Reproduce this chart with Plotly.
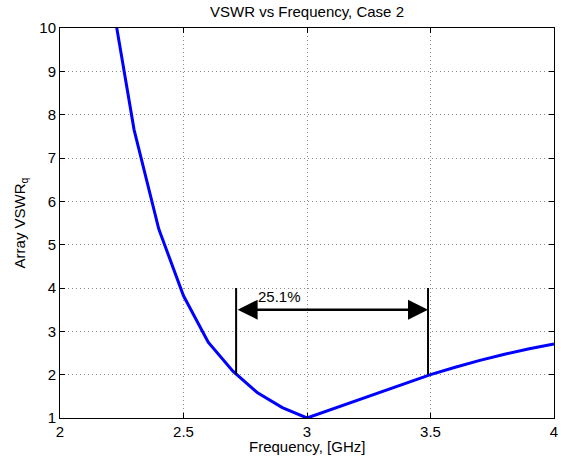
import plotly.graph_objects as go

# VSWR curve
freq = [2.2, 2.3, 2.4, 2.5, 2.6, 2.7, 2.8, 2.9, 3.0, 3.1, 3.2, 3.3, 3.4, 3.5, 3.6, 3.7, 3.8, 3.9, 4.0]
vswr = [11.0, 7.65, 5.36, 3.82, 2.75, 2.08, 1.58, 1.24, 1.0, 1.2, 1.4, 1.6, 1.8, 2.0, 2.17, 2.33, 2.47, 2.6, 2.71]

# bandwidth marker
f_low, f_high = 2.713, 3.49
bw_label = "25.1%"

FS = 15

fig = go.Figure()

fig.add_trace(go.Scatter(x=freq, y=vswr, mode="lines",
                         line=dict(color="#0000ff", width=3), showlegend=False))

# vertical bars at band edges
for f in [f_low, f_high]:
    fig.add_trace(go.Scatter(x=[f, f], y=[2, 4], mode="lines",
                             line=dict(color="black", width=2), showlegend=False))

# double-headed arrow
fig.add_annotation(x=f_high, y=3.5, ax=f_low, ay=3.5, xref="x", yref="y", axref="x", ayref="y",
                   text="", showarrow=True, arrowhead=2, arrowside="end+start",
                   arrowsize=1.6, arrowwidth=2.5, arrowcolor="black")
fig.add_annotation(x=2.89, y=3.8, text=bw_label, showarrow=False,
                   font=dict(size=FS, color="black"))

# x axis title placed by hand (sits closer to the tick labels than plotly's default)
fig.add_annotation(x=0.5, y=-0.072, xref="paper", yref="paper", yanchor="middle",
                   text="Frequency, [GHz]", showarrow=False, font=dict(size=FS, color="black"))

axis_style = dict(showline=True, linecolor="black", linewidth=1, mirror="ticks",
                  ticks="inside", ticklen=5, tickcolor="black",
                  showgrid=True, gridcolor="#8a8a8a", griddash="1px,3px", gridwidth=1,
                  zeroline=False, automargin=False, ticklabeloverflow="allow",
                  tickfont=dict(size=FS, color="black"))

fig.update_xaxes(range=[2, 4], tickvals=[2, 2.5, 3, 3.5, 4],
                 ticktext=["2", "2.5", "3", "3.5", "4"], **axis_style)
fig.update_yaxes(range=[1, 10], dtick=1,
                 title=dict(text="Array VSWR<sub>q</sub>", font=dict(size=FS, color="black"), standoff=10),
                 **axis_style)

fig.update_layout(
    width=561, height=463,
    margin=dict(l=60, r=7, t=28, b=45),
    paper_bgcolor="white", plot_bgcolor="white",
    font=dict(family="Liberation Sans, Arial, sans-serif", color="black"),
    title=dict(text="VSWR vs Frequency, Case 2", xref="paper", x=0.5, xanchor="center",
               yref="container", y=0.974, yanchor="middle",
               font=dict(size=FS, color="black"), automargin=False),
)

# drop the default body margin so the figure fills the window exactly
fig.write_html("out.html", config={"displayModeBar": False},
               post_script="document.body.style.margin='0';")
